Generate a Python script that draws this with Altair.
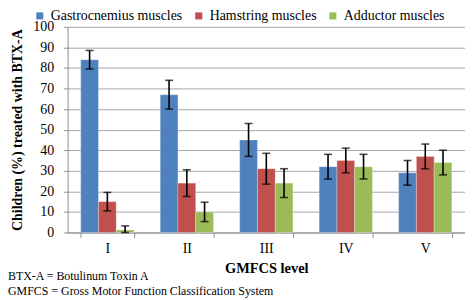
import altair as alt
import pandas as pd

levels = ["I", "II", "III", "IV", "V"]
muscles = ["Gastrocnemius muscles", "Hamstring muscles", "Adductor muscles"]
colors = ["#4F81BD", "#C0504D", "#9BBB59"]

gastro = [84, 67, 45, 32, 29]
gastro_err = [4.5, 7, 8, 6, 6]
ham = [15, 24, 31, 35, 37]
ham_err = [4.5, 6.5, 7.5, 6, 6]
add = [1.2, 10, 24, 32, 34]
add_err = [2, 4.7, 7, 6, 6]

y_ticks = [0, 10, 20, 30, 40, 50, 60, 70, 80, 90, 100]

footnotes = ["BTX-A = Botulinum Toxin A",
             "GMFCS = Gross Motor Function Classification System"]

rows = []
for m, vals, errs in zip(muscles, [gastro, ham, add], [gastro_err, ham_err, add_err]):
    for lv, v, e in zip(levels, vals, errs):
        rows.append({"level": lv, "muscle": m, "value": v,
                     "lo": max(0, v - e), "hi": v + e})
df = pd.DataFrame(rows)

FONT = "Liberation Serif"

xaxis = alt.Axis(title="GMFCS level", labelAngle=0, tickBand="extent",
                 labelFont=FONT, titleFont=FONT,
                 labelFontSize=14, labelPadding=4, tickSize=5,
                 titleFontSize=14.5, titleFontWeight="bold",
                 titleY=36, titleBaseline="middle",
                 domainColor="#8C8C8C", tickColor="#8C8C8C",
                 labelColor="#000000", titleColor="#000000")
xscale = alt.Scale(domain=levels, paddingInner=0.33, paddingOuter=0.165)
xo = alt.XOffset("muscle:N", sort=muscles,
                 scale=alt.Scale(domain=muscles, paddingInner=0, paddingOuter=0))

yaxis = alt.Axis(title="Children (%) treated with BTX-A",
                 values=y_ticks, labelOverlap=False,
                 labelFont=FONT, titleFont=FONT,
                 labelFontSize=14, labelPadding=10, tickSize=4,
                 titleFontSize=14, titleFontWeight="bold",
                 titleX=-50, titleY=103.5, titleAngle=270,
                 titleAlign="center", titleBaseline="middle",
                 grid=True, gridColor="#A6A6A6", domainColor="#8C8C8C",
                 tickColor="#8C8C8C", labelColor="#000000",
                 titleColor="#000000")
yscale = alt.Scale(domain=[0, 100], nice=False)


def X():
    return alt.X("level:N", sort=levels, scale=xscale, axis=xaxis)


bars = alt.Chart(df).mark_bar(stroke="#FFFFFF", strokeOpacity=0.35, strokeWidth=0.8).encode(
    x=X(), xOffset=xo, y=alt.Y("value:Q", scale=yscale, axis=yaxis),
    color=alt.Color("muscle:N", sort=muscles,
                    scale=alt.Scale(domain=muscles, range=colors),
                    legend=alt.Legend(title=None, orient="none", direction="horizontal",
                                      legendX=-35, legendY=-18,
                                      labelFontSize=14, labelFont=FONT,
                                      labelColor="#000000",
                                      symbolType="square", symbolSize=50,
                                      symbolStrokeWidth=0, labelOffset=4,
                                      columnPadding=9))
)

rules = alt.Chart(df).mark_rule(color="#000000", strokeWidth=1.6).encode(
    x=X(), xOffset=xo, y=alt.Y("lo:Q", scale=yscale, axis=None), y2="hi:Q")
cap_lo = alt.Chart(df).mark_tick(color="#000000", thickness=1.6, size=8).encode(
    x=X(), xOffset=xo, y=alt.Y("lo:Q", scale=yscale, axis=None))
cap_hi = alt.Chart(df).mark_tick(color="#000000", thickness=1.6, size=8).encode(
    x=X(), xOffset=xo, y=alt.Y("hi:Q", scale=yscale, axis=None))

note1 = alt.Chart(pd.DataFrame({"t": [footnotes[0]]})).mark_text(
    align="left", baseline="middle", font=FONT, fontSize=12, color="#000000").encode(
    x=alt.value(-60), y=alt.value(251), text="t:N")
note2 = alt.Chart(pd.DataFrame({"t": [footnotes[1]]})).mark_text(
    align="left", baseline="middle", font=FONT, fontSize=12, color="#000000").encode(
    x=alt.value(-60), y=alt.value(266), text="t:N")

chart = alt.layer(bars, rules, cap_lo, cap_hi, note1, note2).resolve_axis(
    y="independent"
).properties(
    width=400, height=207,
    autosize=alt.AutoSizeParams(type="none"),
    padding={"left": 60, "top": 18, "right": 0, "bottom": 67},
).configure(font=FONT).configure_view(strokeWidth=0)

chart.save("out.html", embed_options={"renderer": "svg", "actions": False})
